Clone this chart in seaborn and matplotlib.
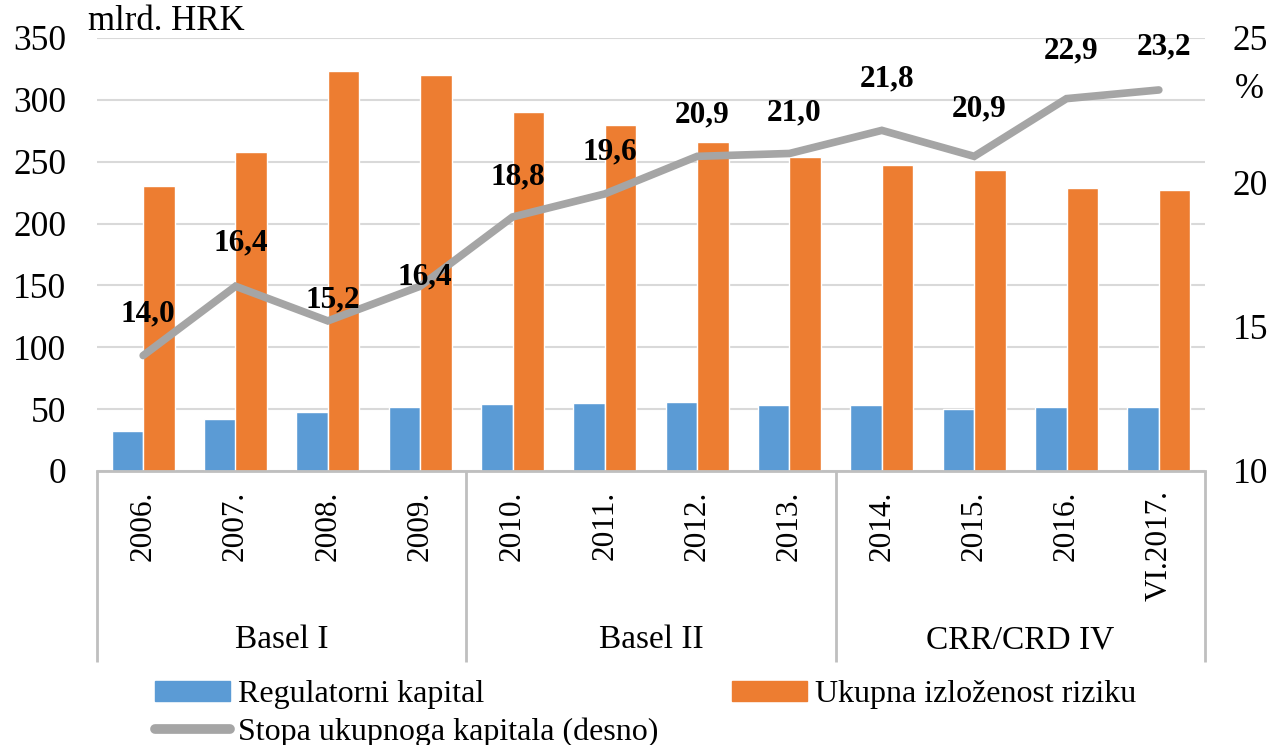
# plot.py
# Regulatorni kapital, ukupna izloženost riziku i stopa ukupnoga kapitala (2006. - VI.2017.)

import numpy as np
import pandas as pd
import matplotlib
matplotlib.use("Agg")
import matplotlib.pyplot as plt
import matplotlib.transforms as mtransforms
from matplotlib.patches import Patch
from matplotlib.lines import Line2D
import seaborn as sns

# ── Data ──────────────────────────────────────────────────────────────────────
kategorije = ["2006.", "2007.", "2008.", "2009.", "2010.", "2011.",
              "2012.", "2013.", "2014.", "2015.", "2016.", "VI.2017."]
regulatorni_kapital = [32, 42, 48, 52, 54, 55, 56, 53, 53, 50, 52, 52]
izlozenost_riziku = [230, 258, 323, 320, 290, 280, 266, 254, 247, 243, 229, 227]
stopa_kapitala = [14.0, 16.4, 15.2, 16.4, 18.8, 19.6, 20.9, 21.0, 21.8, 20.9, 22.9, 23.2]
skupine = ["Basel I", "Basel II", "CRR/CRD IV"]
skupine_velicina = [4, 4, 4]

serija_1 = "Regulatorni kapital"
serija_2 = "Ukupna izloženost riziku"
serija_3 = "Stopa ukupnoga kapitala (desno)"

# label offsets above the line points (points), as placed in the original
label_pomak = [30, 31, 15, 7, 29, 30, 30, 29, 37, 34, 34, 31]

PLAVA = "#5B9BD5"
NARANCASTA = "#ED7D31"
SIVA = "#A5A5A5"
OKVIR = "#BFBFBF"

# ── Style ─────────────────────────────────────────────────────────────────────
sns.set_style("white")
plt.rcParams["font.family"] = ["Liberation Serif", "DejaVu Serif"]
plt.rcParams["text.color"] = "black"
plt.rcParams["xtick.color"] = "black"
plt.rcParams["ytick.color"] = "black"

df = pd.DataFrame({
    "kat": kategorije * 2,
    "serija": [serija_1] * len(kategorije) + [serija_2] * len(kategorije),
    "vrijednost": regulatorni_kapital + izlozenost_riziku,
})

fig = plt.figure(figsize=(12.85, 7.45), dpi=100)
ax = fig.add_axes([97 / 1285, 1 - 471 / 745, (1205 - 97) / 1285, (471 - 38) / 745])

# ── Bars ──────────────────────────────────────────────────────────────────────
sns.barplot(data=df, x="kat", y="vrijednost", hue="serija",
            palette=[PLAVA, NARANCASTA], width=0.68, gap=0, saturation=1,
            legend=False, ax=ax)
ax.set_xlim(-0.5, len(kategorije) - 0.5)
ax.set_ylim(0, 350)
ax.set_yticks(range(0, 351, 50))
ax.yaxis.grid(True, color="#D9D9D9", lw=1.5)
ax.set_axisbelow(True)
ax.set_xlabel("")
ax.set_ylabel("")
for s in ["left", "right", "top"]:
    ax.spines[s].set_visible(False)
ax.spines["bottom"].set_color(OKVIR)
ax.spines["bottom"].set_linewidth(2)
ax.tick_params(axis="y", length=0, pad=22, labelsize=25.5)
ax.tick_params(axis="x", length=0, pad=14, labelsize=22.5)
ax.set_xticks(range(len(kategorije)))
ax.set_xticklabels(kategorije, rotation=90, va="top", ha="center")

# ── Line (right axis) ─────────────────────────────────────────────────────────
ax2 = ax.twinx()
sns.lineplot(x=np.arange(len(kategorije)), y=stopa_kapitala, ax=ax2,
             color=SIVA, linewidth=5.5, sort=False)
ax2.lines[0].set_solid_capstyle("round")
ax2.lines[0].set_solid_joinstyle("miter")
ax2.set_ylim(10, 25)
ax2.set_yticks([10, 15, 20, 25])
ax2.tick_params(axis="y", length=0, pad=20, labelsize=25.5)
for s in ax2.spines.values():
    s.set_visible(False)

for i, v in enumerate(stopa_kapitala):
    ax2.annotate(f"{v:.1f}".replace(".", ","), (i, v),
                 xytext=(3.5, label_pomak[i]), textcoords="offset points",
                 ha="center", va="center", fontsize=22.5, fontweight="bold")

# ── Category groups below the axis ────────────────────────────────────────────
trans = mtransforms.blended_transform_factory(ax.transData, ax.transAxes)
dno = -(662 - 471) / (471 - 38)
granice = np.concatenate([[0], np.cumsum(skupine_velicina)]) - 0.5
for g in granice:
    ax.plot([g, g], [0, dno], transform=trans, color=OKVIR, lw=2,
            clip_on=False, solid_capstyle="butt")
for naziv, a, b in zip(skupine, granice[:-1], granice[1:]):
    ax.text((a + b) / 2, -(640 - 471) / (471 - 38), naziv, transform=trans,
            ha="center", va="center", fontsize=24)

# ── Units ─────────────────────────────────────────────────────────────────────
fig.text(88 / 1285, 1 - 22 / 745, "mlrd. HRK", ha="left", va="center", fontsize=25)
fig.text(1249 / 1285, 1 - 90 / 745, "%", ha="center", va="center", fontsize=25)

# ── Legend ────────────────────────────────────────────────────────────────────
rucke = [Patch(color=PLAVA),
         Line2D([0], [0], color=SIVA, lw=7, solid_capstyle="round"),
         Patch(color=NARANCASTA)]
fig.legend(rucke, [serija_1, serija_3, serija_2], ncol=2, frameon=False,
           loc="upper left", bbox_to_anchor=(155 / 1285, 1 - 680 / 745),
           fontsize=23, handlelength=2.35, handleheight=0.6, handletextpad=0.25,
           labelspacing=0.26, columnspacing=2.3, borderpad=0, borderaxespad=0)

plt.savefig("out.png", dpi=100)
